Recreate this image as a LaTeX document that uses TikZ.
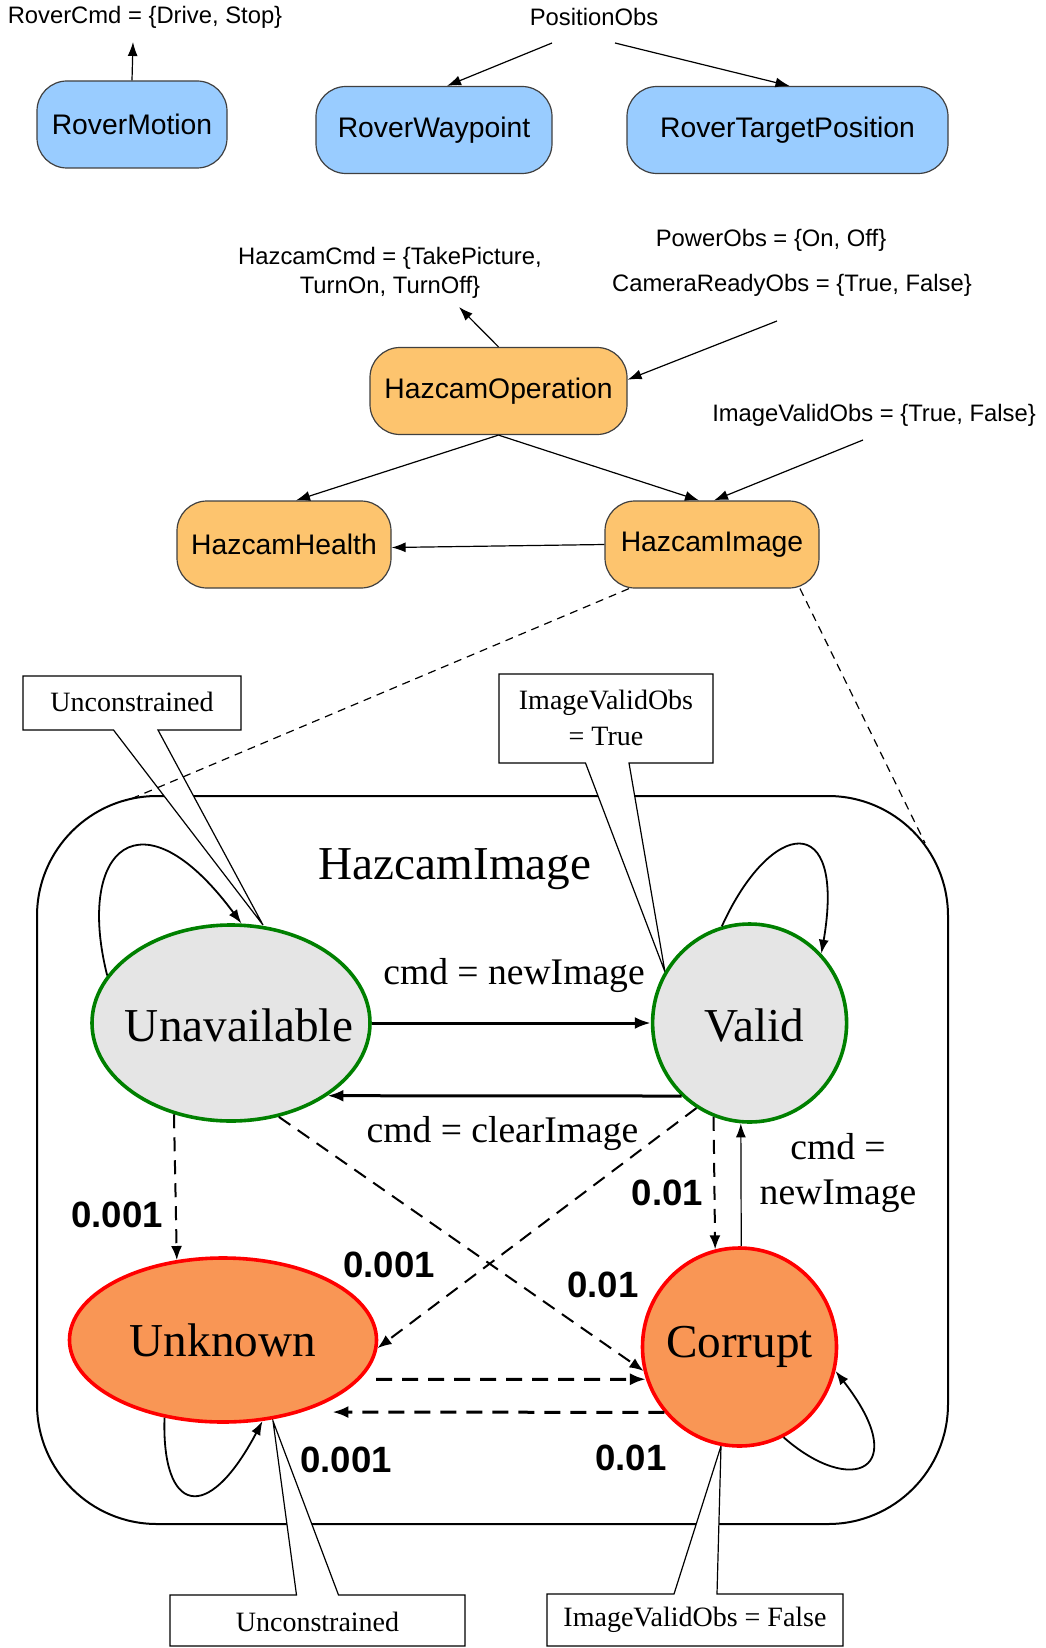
\documentclass[tikz,border=0pt]{standalone}
\usepackage{fontspec}
\setmainfont{Liberation Serif}
\setsansfont{Liberation Sans}
\usetikzlibrary{shapes.geometric,arrows.meta,calc}
\definecolor{BlueFill}{HTML}{99CCFF}
\definecolor{HazFill}{HTML}{FDC46E}
\definecolor{StateGray}{HTML}{E5E5E5}
\definecolor{StateOrange}{HTML}{F99655}
\definecolor{GoodGreen}{HTML}{008000}
\definecolor{BadRed}{HTML}{FF0000}
\newcommand\MyNodeFont{\sffamily\fontsize{14.15}{17}\selectfont}
\newcommand\MySmallFont{\sffamily\fontsize{11.9}{14.5}\selectfont}
\newcommand\MyStateFont{\rmfamily\fontsize{23.6}{28}\selectfont}
\newcommand\MyEdgeFont{\rmfamily\fontsize{18.8}{22.5}\selectfont}
\newcommand\MyNumFont{\sffamily\bfseries\fontsize{18.3}{22}\selectfont}
\newcommand\MyCallFont{\rmfamily\fontsize{14}{18}\selectfont}
\begin{document}
\begin{tikzpicture}[x=0.5pt,y=-0.5pt,
  box/.style={draw=black!75, line width=0.6pt, rounded corners=15pt, inner sep=0pt, minimum height=43.5pt, font=\MyNodeFont},
  bluebox/.style={box, fill=BlueFill},
  orangebox/.style={box, fill=HazFill},
  state/.style={ellipse, line width=1.8pt, inner sep=0pt},
  statetext/.style={font=\MyStateFont, inner sep=0pt},
  goodstate/.style={state, draw=GoodGreen, fill=StateGray},
  badstate/.style={state, draw=BadRed, fill=StateOrange},
  arr/.style={-{Latex[length=7pt,width=5pt]}, line width=0.6pt},
  thickarr/.style={-{Latex[length=8pt,width=6pt]}, line width=1.5pt},
  dasharr/.style={-{Latex[length=7pt,width=5.5pt]}, line width=1pt, dash pattern=on 7pt off 4.5pt},
  thickdash/.style={-{Latex[length=8pt,width=6pt]}, line width=1.5pt, dash pattern=on 8pt off 5pt},
  thindash/.style={line width=0.6pt, dash pattern=on 4pt off 3pt},
  callout/.style={draw=black, line width=0.6pt, fill=white},
  small/.style={font=\MySmallFont, inner sep=0pt},
  edgelbl/.style={font=\MyEdgeFont, inner sep=0pt},
  numlbl/.style={font=\MyNumFont, inner sep=0pt},
  calltext/.style={font=\MyCallFont, inner sep=0pt, align=center}
]
\useasboundingbox (0,0) rectangle (1045,1648);

% ---------- top row ----------
\node[small] (rcmd) at (145,17) {RoverCmd = \{Drive, Stop\}};
\node[small] (pobs) at (594,17) {PositionObs};
\node[bluebox, minimum width=95pt] (rm) at (132,124.5) {RoverMotion};
\node[bluebox, minimum width=118pt] (rw) at (434,130) {RoverWaypoint};
\node[bluebox, minimum width=160.5pt] (rtp) at (787.5,130) {RoverTargetPosition};
\coordinate (cmdtip) at (133,42);
\coordinate (pobsA) at (552,43);
\coordinate (pobsB) at (615,43);
\draw[arr] (rm.north) -- (cmdtip);
\draw[arr] (pobsA) -- ([xshift=6.5pt]rw.north);
\draw[arr] (pobsB) -- ([xshift=1pt]rtp.north);

% ---------- hazcam hierarchy ----------
\node[small, align=center] (hcmd) at (390,273) {HazcamCmd = \{TakePicture,\\TurnOn, TurnOff\}};
\node[small] (power) at (771,240) {PowerObs = \{On, Off\}};
\node[small] (camready) at (792,285) {CameraReadyObs = \{True, False\}};
\node[small] (ivobs) at (874,415) {ImageValidObs = \{True, False\}};
\node[orangebox, minimum width=128.5pt] (ho) at (498.5,391) {HazcamOperation};
\node[orangebox, minimum width=107pt] (hh) at (284,544.5) {HazcamHealth};
\node[orangebox, minimum width=107pt] (hi) at (712,544.5) {HazcamImage};
\coordinate (hcmdtip) at (459,307);
\coordinate (camA) at (777,321);
\coordinate (ivA) at (863,440);
\draw[arr] (ho.north) -- (hcmdtip);
\draw[arr] (camA) -- (ho.5);
\draw[arr] (ivA) -- ([xshift=1pt]hi.north);
\draw[arr] (ho.south) -- ([xshift=6pt]hh.north);
\draw[arr] (ho.south) -- ([xshift=-6.5pt]hi.north);
\draw[arr] (hi.west) -- ([yshift=-1.5pt]hh.east);

% ---------- state machine frame ----------
\node[draw=black, line width=1pt, rounded corners=60pt, minimum width=455.5pt, minimum height=364pt, inner sep=0pt] (sm) at (492.5,1160) {};
\node[font=\MyStateFont, inner sep=0pt] (title) at (455,869) {HazcamImage};

% callouts
\draw[callout] (23,676) -- (241,676) -- (241,730) -- (158,730) -- (263,925) -- (113.5,730) -- (23,730) -- cycle;
\node[calltext] (c1) at (132,702) {Unconstrained};
\draw[callout] (499,674) -- (713,674) -- (713,763) -- (629,763) -- (665,972) -- (585.5,763) -- (499,763) -- cycle;
\node[calltext] (c2) at (606,718) {ImageValidObs\\= True};
\draw[callout] (170,1646) -- (465,1646) -- (465,1595) -- (338.5,1595) -- (273,1421) -- (296.5,1595) -- (170,1595) -- cycle;
\node[calltext] (c3) at (317.5,1622) {Unconstrained};
\draw[callout] (547,1646) -- (843,1646) -- (843,1594) -- (717,1594) -- (721,1446) -- (674,1594) -- (547,1594) -- cycle;
\node[calltext] (c4) at (695,1620) {ImageValidObs = False};

% dashed links from HazcamImage to the expanded view
\coordinate (smTL) at (126,801);
\coordinate (smTR) at (925,843);
\draw[thindash] ([xshift=-41.5pt]hi.south) -- (smTL);
\draw[thindash] ([xshift=44pt]hi.south) -- (smTR);

% states
\node[goodstate, minimum width=139pt, minimum height=98pt, label={[statetext, xshift=4pt, yshift=-1pt]center:Unavailable}] (un) at (231,1023) {};
\node[goodstate, minimum width=97pt, minimum height=99pt, label={[statetext, xshift=2.5pt, yshift=-1pt]center:Valid}] (va) at (749.6,1023) {};
\node[badstate, minimum width=153.5pt, minimum height=82pt, label={[statetext]center:Unknown}] (uk) at (223,1340) {};
\node[badstate, minimum width=97pt, minimum height=99pt, label={[statetext]center:Corrupt}] (co) at (739.5,1347) {};

% transitions
\draw[thickarr] (un.east) -- (va.west);
\draw[thickarr] (va.227.7) -- (un.-37.8);
\draw[dasharr] (un.238.9) -- (uk.120.7);
\draw[dasharr] (un.-63.4) -- (co.194.2);
\draw[dasharr] (va.238) -- (uk.-3.4);
\draw[dasharr] (va.249.5) -- (co.104.3);
\draw[arr] (co.89) -- (va.265);
\draw[thickdash, shorten <=8pt] (uk.-16.6) -- (co.199.8);
\draw[thickdash, shorten >=18pt] (co.221.6) -- ($(uk.center)+(73.4,72)$);

% self loops
\draw[arr, line width=0.9pt] (un.159.6) .. controls +(-32,-127) and +(-100,-135) .. (un.84.8);
\draw[arr, line width=0.9pt] (va.106.8) .. controls +(49,-108) and +(25,-145) .. (va.44);
\draw[arr, line width=0.9pt] (uk.-127.4) .. controls +(-3,94) and +(-56,106) .. (uk.-64.4);
\draw[arr, line width=0.9pt] (co.-64.8) .. controls +(68,60) and +(78,100) .. (co.-14.7);

% labels
\node[edgelbl] (l1) at (514,976) {cmd = newImage};
\node[edgelbl] (l2) at (502.5,1133) {cmd = clearImage};
\node[edgelbl, align=center] (l3) at (838,1173) {cmd =\\newImage};
\node[numlbl] (n1) at (117,1215) {0.001};
\node[numlbl] (n2) at (389,1265) {0.001};
\node[numlbl] (n3) at (603,1285) {0.01};
\node[numlbl] (n4) at (667.5,1193) {0.01};
\node[numlbl] (n5) at (346,1460) {0.001};
\node[numlbl] (n6) at (631,1458) {0.01};
\end{tikzpicture}
\end{document}
